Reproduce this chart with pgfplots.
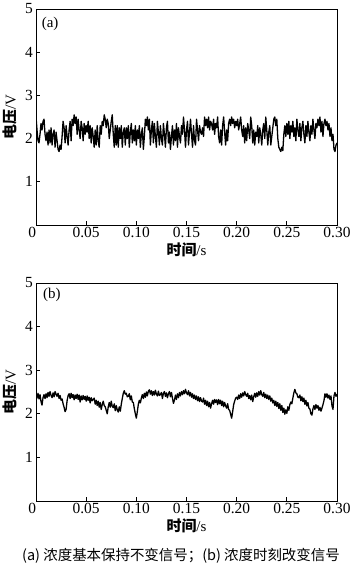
\documentclass[border=0pt]{standalone}
\usepackage{pgfplots}
\usepackage{pgfplotstable}
\pgfplotsset{compat=1.18}
\usepackage{fontspec}
\setmainfont{Liberation Serif}
\newfontfamily\cjk{Noto Sans CJK SC}

\pgfplotstableread{
t v
0.000 2.50
0.001 2.20
0.002 1.95
0.003 1.90
0.004 2.10
0.005 2.35
0.006 2.20
0.007 2.40
0.008 2.45
0.009 2.10
0.010 1.95
0.011 2.15
0.012 1.85
0.013 2.20
0.014 1.90
0.015 2.25
0.016 1.85
0.017 2.10
0.018 2.20
0.019 1.80
0.020 2.15
0.021 1.95
0.022 1.75
0.023 1.70
0.024 1.85
0.025 1.75
0.026 2.05
0.027 2.40
0.028 2.25
0.029 1.90
0.030 2.30
0.031 2.05
0.032 1.85
0.033 2.20
0.034 2.40
0.035 1.95
0.036 2.45
0.037 2.30
0.038 2.55
0.039 2.35
0.040 2.50
0.041 2.10
0.042 2.45
0.043 2.20
0.044 2.00
0.045 2.40
0.046 2.25
0.047 1.95
0.048 2.35
0.049 2.10
0.050 2.30
0.051 2.15
0.052 2.40
0.053 2.00
0.054 2.30
0.055 1.90
0.056 2.25
0.057 2.05
0.058 1.80
0.059 2.20
0.060 1.85
0.061 2.30
0.062 1.95
0.063 1.80
0.064 2.30
0.065 2.10
0.066 2.40
0.067 2.30
0.068 2.55
0.069 2.45
0.070 2.25
0.071 2.45
0.072 2.35
0.073 2.00
0.074 2.20
0.075 2.40
0.076 2.55
0.077 2.10
0.078 1.80
0.079 2.30
0.080 1.85
0.081 2.30
0.082 1.80
0.083 2.25
0.084 2.00
0.085 2.30
0.086 1.80
0.087 2.15
0.088 2.25
0.089 1.85
0.090 2.25
0.091 2.00
0.092 2.30
0.093 1.80
0.094 2.15
0.095 2.35
0.096 1.90
0.097 2.20
0.098 1.95
0.099 2.30
0.100 1.85
0.101 2.20
0.102 2.00
0.103 2.30
0.104 1.80
0.105 2.10
0.106 2.25
0.107 1.75
0.108 2.05
0.109 2.45
0.110 2.30
0.111 2.50
0.112 2.20
0.113 2.45
0.114 1.85
0.115 2.20
0.116 2.40
0.117 1.90
0.118 2.35
0.119 2.05
0.120 1.80
0.121 2.40
0.122 2.15
0.123 1.85
0.124 2.30
0.125 2.00
0.126 1.85
0.127 2.35
0.128 2.10
0.129 1.80
0.130 2.25
0.131 2.40
0.132 1.90
0.133 2.15
0.134 1.75
0.135 2.05
0.136 2.30
0.137 1.85
0.138 2.20
0.139 1.95
0.140 2.35
0.141 1.80
0.142 2.25
0.143 2.05
0.144 1.90
0.145 2.30
0.146 2.10
0.147 2.50
0.148 2.20
0.149 1.80
0.150 2.20
0.151 2.40
0.152 1.85
0.153 2.15
0.154 2.45
0.155 2.10
0.156 1.80
0.157 2.30
0.158 1.95
0.159 1.85
0.160 2.45
0.161 2.20
0.162 1.95
0.163 2.30
0.164 2.15
0.165 2.10
0.166 2.25
0.167 2.05
0.168 2.50
0.169 2.30
0.170 2.45
0.171 2.25
0.172 2.50
0.173 2.20
0.174 2.40
0.175 2.35
0.176 2.20
0.177 2.45
0.178 2.10
0.179 2.35
0.180 2.25
0.181 2.50
0.182 2.05
0.183 1.90
0.184 2.20
0.185 1.85
0.186 2.30
0.187 2.50
0.188 2.15
0.189 1.85
0.190 2.20
0.191 1.95
0.192 2.35
0.193 2.45
0.194 2.30
0.195 2.50
0.196 2.35
0.197 2.45
0.198 2.25
0.199 2.40
0.200 2.30
0.201 2.45
0.202 2.20
0.203 2.35
0.204 2.50
0.205 2.20
0.206 2.05
0.207 2.30
0.208 1.90
0.209 2.25
0.210 1.95
0.211 2.35
0.212 2.20
0.213 2.00
0.214 2.50
0.215 2.30
0.216 1.90
0.217 2.20
0.218 1.85
0.219 2.15
0.220 2.05
0.221 2.30
0.222 1.90
0.223 2.25
0.224 2.10
0.225 1.85
0.226 2.20
0.227 2.35
0.228 2.00
0.229 2.50
0.230 2.20
0.231 1.85
0.232 2.15
0.233 2.30
0.234 1.85
0.235 2.05
0.236 2.25
0.237 2.45
0.238 2.50
0.239 2.30
0.240 2.45
0.241 2.00
0.242 1.80
0.243 1.75
0.244 1.70
0.245 1.80
0.246 1.72
0.247 2.10
0.248 2.30
0.249 2.05
0.250 2.35
0.251 2.10
0.252 2.40
0.253 2.00
0.254 2.30
0.255 2.15
0.256 2.40
0.257 2.05
0.258 2.25
0.259 1.95
0.260 2.45
0.261 2.20
0.262 2.05
0.263 2.35
0.264 1.95
0.265 2.25
0.266 2.40
0.267 2.10
0.268 1.90
0.269 2.30
0.270 2.05
0.271 2.40
0.272 2.15
0.273 1.95
0.274 2.30
0.275 2.10
0.276 2.45
0.277 2.20
0.278 2.00
0.279 2.35
0.280 2.25
0.281 2.45
0.282 2.30
0.283 2.50
0.284 2.15
0.285 2.40
0.286 2.05
0.287 2.35
0.288 2.45
0.289 2.30
0.290 2.40
0.291 2.20
0.292 2.35
0.293 2.05
0.294 2.25
0.295 1.95
0.296 2.10
0.297 1.75
0.298 1.70
0.299 1.85
0.300 1.90
}\dataA

\pgfplotstableread{
t v
0.000 2.45
0.001 2.36
0.002 2.47
0.003 2.34
0.004 2.44
0.005 2.28
0.006 2.20
0.007 2.37
0.008 2.44
0.009 2.35
0.010 2.46
0.011 2.37
0.012 2.49
0.013 2.40
0.014 2.51
0.015 2.42
0.016 2.37
0.017 2.48
0.018 2.39
0.019 2.51
0.020 2.45
0.021 2.40
0.022 2.47
0.023 2.35
0.024 2.42
0.025 2.31
0.026 2.34
0.027 2.23
0.028 2.15
0.029 2.05
0.030 2.10
0.031 2.30
0.032 2.42
0.033 2.46
0.034 2.35
0.035 2.47
0.036 2.37
0.037 2.44
0.038 2.32
0.039 2.43
0.040 2.35
0.041 2.45
0.042 2.33
0.043 2.43
0.044 2.27
0.045 2.41
0.046 2.32
0.047 2.42
0.048 2.33
0.049 2.40
0.050 2.29
0.051 2.41
0.052 2.31
0.053 2.38
0.054 2.25
0.055 2.37
0.056 2.30
0.057 2.33
0.058 2.36
0.059 2.22
0.060 2.31
0.061 2.19
0.062 2.29
0.063 2.15
0.064 2.26
0.065 2.10
0.066 2.21
0.067 2.29
0.068 2.19
0.069 2.16
0.070 2.08
0.071 2.00
0.072 2.16
0.073 2.26
0.074 2.15
0.075 2.29
0.076 2.17
0.077 2.14
0.078 2.23
0.079 2.07
0.080 2.19
0.081 2.09
0.082 2.04
0.083 2.16
0.084 2.06
0.085 2.22
0.086 2.35
0.087 2.47
0.088 2.53
0.089 2.45
0.090 2.47
0.091 2.39
0.092 2.40
0.093 2.46
0.094 2.32
0.095 2.41
0.096 2.27
0.097 2.26
0.098 2.12
0.099 2.00
0.100 1.90
0.101 2.05
0.102 2.22
0.103 2.31
0.104 2.25
0.105 2.36
0.106 2.44
0.107 2.35
0.108 2.47
0.109 2.38
0.110 2.50
0.111 2.41
0.112 2.52
0.113 2.55
0.114 2.45
0.115 2.53
0.116 2.42
0.117 2.51
0.118 2.43
0.119 2.54
0.120 2.45
0.121 2.41
0.122 2.52
0.123 2.42
0.124 2.44
0.125 2.49
0.126 2.35
0.127 2.47
0.128 2.51
0.129 2.40
0.130 2.48
0.131 2.37
0.132 2.46
0.133 2.51
0.134 2.39
0.135 2.49
0.136 2.36
0.137 2.24
0.138 2.31
0.139 2.43
0.140 2.33
0.141 2.46
0.142 2.37
0.143 2.49
0.144 2.41
0.145 2.51
0.146 2.44
0.147 2.53
0.148 2.46
0.149 2.56
0.150 2.48
0.151 2.44
0.152 2.53
0.153 2.41
0.154 2.49
0.155 2.38
0.156 2.46
0.157 2.35
0.158 2.43
0.159 2.33
0.160 2.41
0.161 2.30
0.162 2.39
0.163 2.28
0.164 2.37
0.165 2.29
0.166 2.27
0.167 2.36
0.168 2.22
0.169 2.31
0.170 2.19
0.171 2.29
0.172 2.16
0.173 2.26
0.174 2.13
0.175 2.23
0.176 2.31
0.177 2.22
0.178 2.33
0.179 2.26
0.180 2.32
0.181 2.21
0.182 2.33
0.183 2.23
0.184 2.31
0.185 2.19
0.186 2.29
0.187 2.16
0.188 2.26
0.189 2.18
0.190 2.13
0.191 2.23
0.192 2.10
0.193 2.08
0.194 1.99
0.195 1.90
0.196 2.05
0.197 2.21
0.198 2.29
0.199 2.36
0.200 2.38
0.201 2.33
0.202 2.43
0.203 2.35
0.204 2.46
0.205 2.38
0.206 2.48
0.207 2.41
0.208 2.51
0.209 2.44
0.210 2.40
0.211 2.47
0.212 2.35
0.213 2.42
0.214 2.32
0.215 2.43
0.216 2.28
0.217 2.39
0.218 2.47
0.219 2.38
0.220 2.48
0.221 2.40
0.222 2.51
0.223 2.43
0.224 2.53
0.225 2.44
0.226 2.40
0.227 2.49
0.228 2.37
0.229 2.45
0.230 2.35
0.231 2.43
0.232 2.33
0.233 2.41
0.234 2.29
0.235 2.36
0.236 2.25
0.237 2.31
0.238 2.19
0.239 2.29
0.240 2.17
0.241 2.26
0.242 2.12
0.243 2.23
0.244 2.08
0.245 2.19
0.246 2.03
0.247 2.13
0.248 1.99
0.249 2.09
0.250 2.01
0.251 2.16
0.252 2.08
0.253 2.21
0.254 2.27
0.255 2.23
0.256 2.36
0.257 2.48
0.258 2.56
0.259 2.48
0.260 2.46
0.261 2.38
0.262 2.37
0.263 2.43
0.264 2.30
0.265 2.39
0.266 2.28
0.267 2.36
0.268 2.22
0.269 2.31
0.270 2.18
0.271 2.26
0.272 2.13
0.273 2.11
0.274 2.00
0.275 1.97
0.276 2.11
0.277 2.19
0.278 2.10
0.279 2.21
0.280 2.13
0.281 2.19
0.282 2.08
0.283 2.15
0.284 2.06
0.285 2.13
0.286 2.21
0.287 2.30
0.288 2.46
0.289 2.38
0.290 2.46
0.291 2.36
0.292 2.43
0.293 2.33
0.294 2.41
0.295 2.18
0.296 2.10
0.297 2.41
0.298 2.49
0.299 2.40
0.300 2.45
}\dataB

\pgfplotsset{
  myax/.style={
    scale only axis,
    width=301bp,
    xmin=0, xmax=0.3, ymin=0, ymax=5,
    axis line style={line width=0.7bp, black},
    tick style={line width=0.7bp, black},
    tick align=inside,
    xtick pos=bottom, ytick pos=left,
    major tick length=4bp,
    xtick={0,0.05,0.1,0.15,0.2,0.25,0.3},
    xticklabels={\llap{0},0.05,0.10,0.15,0.20,0.25,0.30},
    ytick={1,2,3,4,5},
    yticklabels={1,2,3,4,5},
    tick label style={font=\fontsize{15.5}{15.5}\selectfont},
    xticklabel style={inner sep=2.5bp},
    yticklabel style={inner sep=3bp},
    xlabel={{\cjk\bfseries 时间}/s},
    ylabel={{\cjk\bfseries 电压}/V},
    every axis x label/.style={at={(axis description cs:0.5,0)}, yshift=-25bp, anchor=center, font=\fontsize{15}{15}\selectfont},
    every axis y label/.style={at={(axis description cs:0,0.5)}, xshift=-26bp, rotate=90, anchor=center, font=\fontsize{15}{15}\selectfont},
    clip=true,
  }
}

\begin{document}
\begin{tikzpicture}
\begin{axis}[myax, height=216bp, at={(36bp,346bp)}, anchor=south west]
\addplot[black, line width=1.3bp, line join=round] table[x=t, y=v] {\dataA};
\node[font=\fontsize{15}{15}\selectfont] at (axis description cs:0.047,0.93) {(a)};
\end{axis}
\begin{axis}[myax, height=218bp, at={(36bp,70bp)}, anchor=south west]
\addplot[black, line width=1.3bp, line join=round] table[x=t, y=v] {\dataB};
\node[font=\fontsize{15}{15}\selectfont] at (axis description cs:0.053,0.945) {(b)};
\end{axis}
\node[font=\cjk\fontsize{14.5}{14.5}\selectfont] at (181bp,15bp) {(a) 浓度基本保持不变信号；(b) 浓度时刻改变信号};
\pgfresetboundingbox
\path[use as bounding box] (0bp,0bp) rectangle (351bp,571bp);
\end{tikzpicture}
\end{document}
